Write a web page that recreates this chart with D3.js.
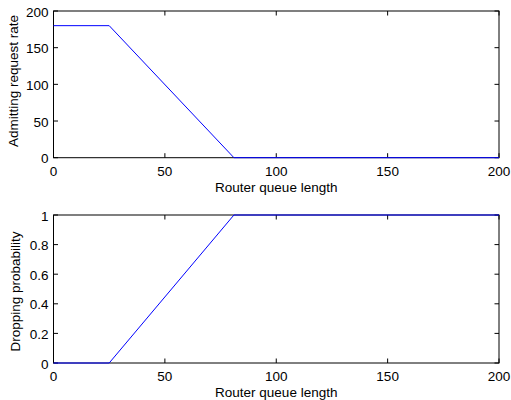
<!DOCTYPE html>
<html>
<head>
<meta charset="utf-8">
<script src="https://cdn.jsdelivr.net/npm/d3@7"></script>
<style>
  body { margin: 0; background: #fff; }
  svg text { font-family: "Liberation Sans", Arial, sans-serif; font-size: 13.5px; fill: #000; }
</style>
</head>
<body>
<svg id="chart" width="511" height="400"></svg>
<script>
// Top panel: admitting request rate vs router queue length
const queueTop = [0, 25, 81, 200];
const rateTop  = [180, 180, 0, 0];
// Bottom panel: dropping probability vs router queue length
const queueBot = [0, 25, 81, 200];
const probBot  = [0, 0, 1, 1];

const xTicks = [0, 50, 100, 150, 200];
const rateTicks = [0, 50, 100, 150, 200];
const probTicks = [0, 0.2, 0.4, 0.6, 0.8, 1];

const svg = d3.select('#chart');
const L = 53.5, R = 499;

function panel(top, bottom, xs, ys, yDomain, yTicks, yLabel, yLabelX, yLabelY) {
  const x = d3.scaleLinear().domain([0, 200]).range([L, R]);
  const y = d3.scaleLinear().domain(yDomain).range([bottom, top]);
  const g = svg.append('g');

  // frame
  g.append('rect')
    .attr('x', L).attr('y', top)
    .attr('width', R - L).attr('height', bottom - top)
    .attr('fill', 'none').attr('stroke', '#000').attr('stroke-width', 1);

  const tl = 4.5;
  // x ticks (inside, bottom and top)
  xTicks.forEach(t => {
    const px = x(t);
    g.append('line').attr('x1', px).attr('x2', px).attr('y1', bottom).attr('y2', bottom - tl).attr('stroke', '#000');
    g.append('line').attr('x1', px).attr('x2', px).attr('y1', top).attr('y2', top + tl).attr('stroke', '#000');
    g.append('text').attr('x', px).attr('y', bottom + 18).attr('text-anchor', 'middle').text(t);
  });
  // y ticks (inside, left and right)
  yTicks.forEach(t => {
    const py = y(t);
    g.append('line').attr('x1', L).attr('x2', L + tl).attr('y1', py).attr('y2', py).attr('stroke', '#000');
    g.append('line').attr('x1', R).attr('x2', R - tl).attr('y1', py).attr('y2', py).attr('stroke', '#000');
    g.append('text').attr('x', L - 5).attr('y', py + 5.5).attr('text-anchor', 'end').text(t);
  });

  const line = d3.line().x((d, i) => x(xs[i])).y(d => y(d));
  g.append('path').datum(ys)
    .attr('d', line)
    .attr('fill', 'none').attr('stroke', '#0000ff').attr('stroke-width', 1);

  g.append('text').attr('x', (L + R) / 2).attr('y', bottom + 34)
    .attr('text-anchor', 'middle').text('Router queue length');
  g.append('text')
    .attr('transform', `translate(${yLabelX},${yLabelY}) rotate(-90)`)
    .attr('text-anchor', 'middle').text(yLabel);
}

panel(11, 157.7, queueTop, rateTop, [0, 200], rateTicks, 'Admitting request rate', 18, 81);
panel(215, 363, queueBot, probBot, [0, 1], probTicks, 'Dropping probability', 20, 291.5);
</script>
</body>
</html>
